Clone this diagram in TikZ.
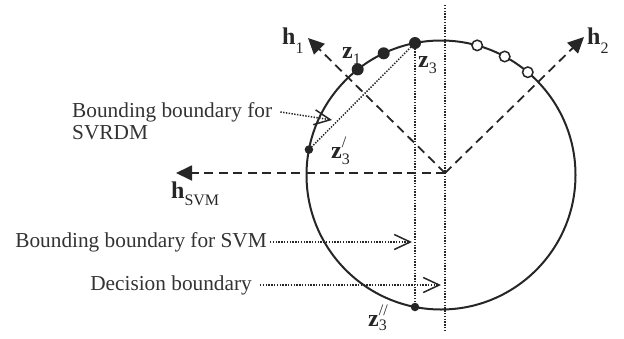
\documentclass[tikz,border=0pt]{standalone}
\usepackage{fontspec}
\setmainfont{Liberation Serif}
\usetikzlibrary{arrows.meta}
\newcommand\lsub[2][0.4em]{\raisebox{-#1}{\fontsize{16}{16}\selectfont #2}}
\newcommand\lsubsup[3][0.28em]{\rlap{\raisebox{0.42em}{\fontsize{16}{16}\selectfont #3}}\lsub[#1]{#2}}
\begin{document}
\begin{tikzpicture}[x=1pt,y=-1pt,
  circ/.style={line width=2pt, black!85},
  dashln/.style={line width=1.8pt, black!85, dash pattern=on 9pt off 5.5pt, -{Triangle[length=16pt,width=15pt]}},
  dotln/.style={line width=1.5pt, black!85, dash pattern=on 1.4pt off 1.4pt},
  leader/.style={dotln, -{Straight Barb[length=16pt,width=15pt,line width=1.5pt]}},
  fdot/.style={circle, fill=black!85, inner sep=0pt, minimum size=12pt},
  sdot/.style={circle, fill=black!85, inner sep=0pt, minimum size=8.5pt},
  odot/.style={circle, draw=black!85, line width=1.5pt, fill=white, inner sep=0pt, minimum size=10.5pt},
  lbl/.style={anchor=base west, inner sep=0pt, text=black!85, font=\fontsize{24}{24}\selectfont},
  txt/.style={inner sep=0pt, font=\fontsize{21.3}{22}\selectfont, text=black!80},
]
\useasboundingbox (0,0) rectangle (624,338);

% geometry
\coordinate (C) at (441,175);
\coordinate (O) at (445,173);
\coordinate (h1tip) at (308,38);
\coordinate (h2tip) at (584,37);
\coordinate (hstip) at (176,173);
\coordinate (dtop) at (445,5);
\coordinate (dbot) at (445,332);

% points on the circle
\coordinate (pz1) at (357.7,69.4);
\coordinate (pz2) at (383.7,53.3);
\coordinate (pz3) at (415,43.0);
\coordinate (po1) at (477.2,45.4);
\coordinate (po2) at (504.7,56.5);
\coordinate (po3) at (527.8,72.2);
\coordinate (pz3p) at (308.9,149.6);
\coordinate (pz3pp) at (415,307.0);

% dotted boundaries
\draw[dotln] (dtop) -- (dbot);
\draw[dotln] (pz3) -- (pz3pp);
\draw[dotln] (pz3) -- (pz3p);

% dashed directions
\draw[dashln] (O) -- (h1tip);
\draw[dashln] (O) -- (h2tip);
\draw[dashln] (O) -- (hstip);

% circle
\draw[circ] (C) circle[radius=134.5pt];

% points
\node[fdot] (d1) at (pz1) {};
\node[fdot] (d2) at (pz2) {};
\node[fdot] (d3) at (pz3) {};
\node[odot] (o1) at (po1) {};
\node[odot] (o2) at (po2) {};
\node[odot] (o3) at (po3) {};
\node[sdot] (d3p) at (pz3p) {};
\node[sdot] (d3pp) at (pz3pp) {};

% labels
\node[lbl] (lh1) at (282,44) {\textbf{h}\lsub{1}};
\node[lbl] (lh2) at (587,44) {\textbf{h}\lsub{2}};
\node[lbl] (lhs) at (171,198) {\textbf{h}\lsub[0.3em]{SVM}};
\node[lbl] (lz1) at (342,58) {\textbf{z}\lsub[0.25em]{1}};
\node[lbl] (lz3) at (418,67) {\textbf{z}\lsub[0.25em]{3}};
\node[lbl] (lz3p) at (331,158) {\textbf{z}\lsubsup{3}{/}};
\node[lbl] (lz3pp) at (368,326) {\textbf{z}\lsubsup[0.2em]{3}{//}};

% texts with leaders
\node[txt, anchor=west] (t1a) at (72,112) {Bounding boundary for};
\node[txt, anchor=base west] (t1b) at (72,139) {SVRDM};
\node[txt, anchor=east] (t2) at (267,242) {Bounding boundary for SVM};
\node[txt, anchor=east] (t3) at (252,285) {Decision boundary};

\coordinate (a1) at (332,120);
\coordinate (a2) at (412,242);
\coordinate (a3) at (441,285);
\draw[leader] ([xshift=8pt]t1a.east) -- (a1);
\draw[leader] ([xshift=3pt]t2.east) -- (a2);
\draw[leader] ([xshift=8pt]t3.east) -- (a3);
\end{tikzpicture}
\end{document}
